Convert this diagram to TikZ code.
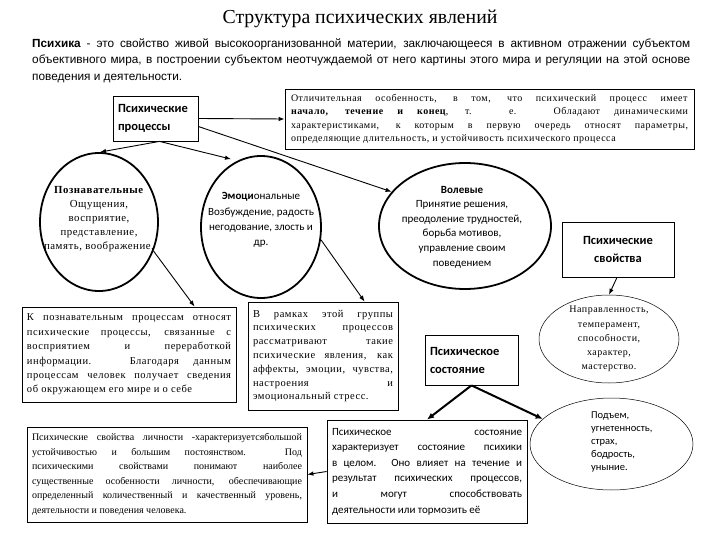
\documentclass[tikz,border=0pt]{standalone}
\usepackage{fontspec}
\setmainfont{Liberation Serif}
\newfontfamily\sansf{Liberation Sans}
\newfontfamily\calib{Carlito}
\newfontfamily\wserif[LetterSpace=5]{Liberation Serif}
\usetikzlibrary{shapes.geometric,arrows.meta,calc}
\begin{document}
\begin{tikzpicture}[x=1pt,y=-1pt,
  box/.style={draw, line width=0.8pt, rectangle, inner sep=0pt},
  oval/.style={draw, ellipse, inner sep=0pt},
  thickoval/.style={oval, line width=1.8pt},
  thinoval/.style={oval, line width=0.5pt},
  arr/.style={-{Latex[length=6pt,width=4.5pt]}, line width=0.9pt},
  thickarr/.style={-{Latex[length=7pt,width=6pt]}, line width=2pt},
  labelb/.style={font=\calib\bfseries\fontsize{12.5}{18}\selectfont},
]
\fill[white] (0,0) rectangle (720,540);
\useasboundingbox (0,0) rectangle (720,540);

\node[font=\fontsize{19.8}{22}\selectfont] (title) at (360,18.5) {Структура психических явлений};

\node[anchor=north west, text width=658pt, align=justify, inner sep=0pt,
  font=\sansf\fontsize{11.8}{16.5}\selectfont] (para) at (32,38.5)
  {\textbf{Психика} - это свойство живой высокоорганизованной материи, заключающееся в активном отражении субъектом\linebreak
   объективного мира, в построении субъектом неотчуждаемой от него картины этого мира и регуляции на этой основе\linebreak
   поведения и деятельности.};

% processes box
\node[box, minimum width=85pt, minimum height=45pt, text width=75pt, align=left, labelb] (proc) at (155.5,118.5)
  {Психические\\процессы};

\node[box, minimum width=409pt, minimum height=60pt, text width=397pt, align=justify,
  font=\wserif\fontsize{10}{13.3}\selectfont] (desc) at (489.5,119)
  {Отличительная особенность, в том, что психический процесс имеет\linebreak
   \textbf{начало, течение и конец}, т. е. Обладают динамическими\linebreak
   характеристиками, к которым в первую очередь относят параметры,\linebreak
   определяющие длительность, и устойчивость психического процесса};

% circles
\node[thickoval, minimum width=118pt, minimum height=138pt] (c1) at (99,222) {};
\node[align=center, inner sep=0pt, font=\wserif\fontsize{10.8}{14}\selectfont] (c1t) at (99,219)
  {\textbf{Познавательные}\\Ощущения,\\восприятие,\\представление,\\память, воображение.};

\node[thickoval, minimum width=120pt, minimum height=142pt] (c2) at (261,227) {};
\node[align=center, inner sep=0pt, font=\calib\fontsize{11}{15.3}\selectfont] (c2t) at (261,220)
  {\textbf{Эмоци}ональные\\Возбуждение, радость\\негодование, злость и\\др.};

\node[thickoval, minimum width=172pt, minimum height=126pt] (c3) at (465,226) {};
\node[align=center, inner sep=0pt, font=\calib\fontsize{11}{14.6}\selectfont] (c3t) at (462,227)
  {\textbf{Волевые}\\Принятие решения,\\преодоление трудностей,\\борьба мотивов,\\управление своим\\поведением};

% properties
\node[box, minimum width=112pt, minimum height=55pt, align=center, labelb] (prop) at (618,249.5)
  {Психические\\свойства};

\node[thinoval, minimum width=140pt, minimum height=88pt] (e4) at (609,339) {};
\node[align=center, inner sep=0pt, font=\wserif\fontsize{10}{14.2}\selectfont] (e4t) at (609,339)
  {Направленность,\\темперамент,\\способности,\\характер,\\мастерство.};

% cognitive description
\node[box, minimum width=214pt, minimum height=95pt, text width=204pt, align=justify,
  font=\wserif\fontsize{10.5}{14.4}\selectfont] (kbox) at (129,354.5)
  {К познавательным процессам относят\linebreak
   психические процессы, связанные с\linebreak
   восприятием и переработкой\linebreak
   информации. Благодаря данным\linebreak
   процессам человек получает сведения\linebreak
   об окружающем его мире и о себе};

\node[box, minimum width=150pt, minimum height=108pt, text width=140pt, align=justify,
  font=\wserif\fontsize{10.5}{13.8}\selectfont] (vbox) at (323,356)
  {В рамках этой группы\linebreak
   психических процессов\linebreak
   рассматривают такие\linebreak
   психические явления, как\linebreak
   аффекты, эмоции, чувства,\linebreak
   настроения и\linebreak
   эмоциональный стресс.};

\node[box, minimum width=93pt, minimum height=50pt, text width=83pt, align=left, labelb] (state) at (471.5,360)
  {Психическое\\состояние};

\node[box, minimum width=200pt, minimum height=103pt, text width=190pt, align=justify,
  font=\calib\fontsize{11}{15.6}\selectfont] (sbox) at (427,471.5)
  {Психическое состояние\linebreak
   характеризует состояние психики\linebreak
   в целом. Оно влияет на течение и\linebreak
   результат психических процессов,\linebreak
   и могут способствовать\linebreak
   деятельности или тормозить её};

\node[box, minimum width=280pt, minimum height=95pt, text width=270pt, align=justify,
  font=\fontsize{10}{14.5}\selectfont] (lbox) at (167,474.5)
  {Психические свойства личности -характеризуетсябольшой\linebreak
   устойчивостью и большим постоянством. Под\linebreak
   психическими свойствами понимают наиболее\linebreak
   существенные особенности личности, обеспечивающие\linebreak
   определенный количественный и качественный уровень,\linebreak
   деятельности и поведения человека.};

\node[thinoval, minimum width=163pt, minimum height=92pt] (e5) at (611.5,444) {};
\node[align=left, inner sep=0pt, font=\calib\fontsize{10.5}{13.2}\selectfont, anchor=west] (e5t) at (591,442)
  {Подъем,\\угнетенность,\\страх,\\бодрость,\\уныние.};

% connectors
\coordinate (pb) at ($(proc.south)+(4,0)$);
\draw[arr] (proc.east) -- (desc.west);
\draw[arr] (pb) -- ($(c1.north)+(1,0)$);
\draw[arr] (pb) -- ($(c2.north)+(-30,4)$);
\draw[arr] ($(proc.east)+(0,8)$) -- (c3.155);
\draw[arr] (c1.-28) -- ($(kbox.north west)+(173,0)$);
\draw[arr] (c2.-12) -- ($(vbox.north west)+(117,0)$);
\draw[arr] ($(prop.south)+(-1,0)$) -- (e4.north);
\coordinate (sb) at ($(state.south)+(0,0)$);
\draw[thickarr] (sb) -- ($(sbox.north)+(0,0)$);
\draw[thickarr] (sb) -- (e5.160);
\draw[arr] (sbox.west) -- (lbox.east);
\end{tikzpicture}
\end{document}
